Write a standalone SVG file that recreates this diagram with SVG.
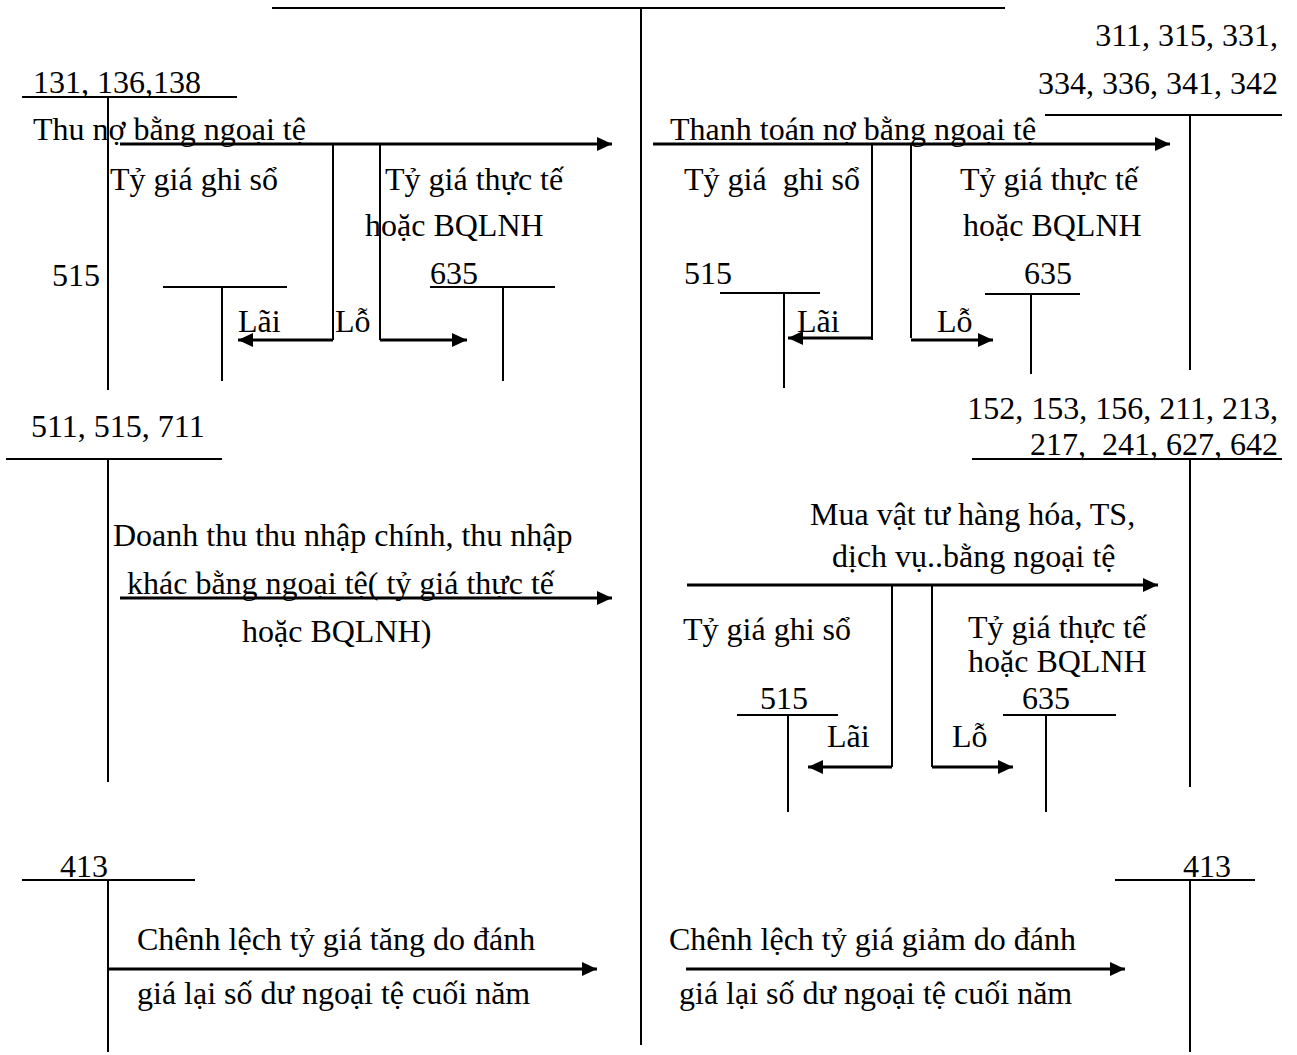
<svg xmlns="http://www.w3.org/2000/svg" width="1297" height="1055" viewBox="0 0 1297 1055">
<style>
.t{stroke:#000;stroke-width:2;fill:none}
.a{stroke:#000;stroke-width:3;fill:none;marker-end:url(#ah)}
.b{stroke:#000;stroke-width:2;fill:none}
</style>
<defs>
<marker id="ah" markerUnits="userSpaceOnUse" markerWidth="16" markerHeight="14" refX="15" refY="7" orient="auto">
<path d="M0,0 L15,7 L0,14 z" fill="#000"/>
</marker>
</defs>
<rect width="1297" height="1055" fill="#fff"/>
<g id="frame">
<line class="t" x1="272" y1="8" x2="1005" y2="8"/>
<line class="t" x1="641" y1="8" x2="641" y2="1045"/>
</g>
<g font-family="Liberation Serif, Times New Roman, serif" font-size="32" fill="#000">
<g id="acc131">
<text x="33" y="93">131, 136,138</text>
<line class="t" x1="22" y1="97" x2="237" y2="97"/>
<line class="t" x1="108" y1="97" x2="108" y2="390"/>
</g>
<g id="acc515a">
<text x="52" y="286">515</text>
<line class="t" x1="163" y1="287" x2="287" y2="287"/>
<line class="t" x1="222" y1="287" x2="222" y2="381"/>
</g>
<g id="acc635a">
<text x="430" y="284">635</text>
<line class="t" x1="430" y1="287" x2="555" y2="287"/>
<line class="t" x1="503" y1="287" x2="503" y2="381"/>
</g>
<g id="acc511">
<text x="31" y="437">511, 515, 711</text>
<line class="t" x1="6" y1="459" x2="222" y2="459"/>
<line class="t" x1="108" y1="459" x2="108" y2="782"/>
</g>
<g id="acc413a">
<text x="60" y="877">413</text>
<line class="t" x1="22" y1="880" x2="195" y2="880"/>
<line class="t" x1="108" y1="880" x2="108" y2="1052"/>
</g>
<g id="acc311">
<text x="1278" y="46" text-anchor="end">311, 315, 331,</text>
<text x="1278" y="94" text-anchor="end">334, 336, 341, 342</text>
<line class="t" x1="1045" y1="115" x2="1282" y2="115"/>
<line class="t" x1="1190" y1="115" x2="1190" y2="370"/>
</g>
<g id="acc515b">
<text x="684" y="284">515</text>
<line class="t" x1="720" y1="293" x2="820" y2="293"/>
<line class="t" x1="784" y1="293" x2="784" y2="388"/>
</g>
<g id="acc635b">
<text x="1024" y="284">635</text>
<line class="t" x1="985" y1="294" x2="1080" y2="294"/>
<line class="t" x1="1031" y1="294" x2="1031" y2="374"/>
</g>
<g id="acc152">
<text x="1278" y="419" text-anchor="end">152, 153, 156, 211, 213,</text>
<text x="1278" y="455" text-anchor="end" xml:space="preserve">217,  241, 627, 642</text>
<line class="t" x1="972" y1="459" x2="1282" y2="459"/>
<line class="t" x1="1190" y1="459" x2="1190" y2="787"/>
</g>
<g id="acc515c">
<text x="760" y="709">515</text>
<line class="t" x1="737" y1="715" x2="838" y2="715"/>
<line class="t" x1="788" y1="715" x2="788" y2="812"/>
</g>
<g id="acc635c">
<text x="1022" y="709">635</text>
<line class="t" x1="1003" y1="715" x2="1116" y2="715"/>
<line class="t" x1="1046" y1="715" x2="1046" y2="812"/>
</g>
<g id="acc413b">
<text x="1183" y="877">413</text>
<line class="t" x1="1115" y1="880" x2="1255" y2="880"/>
<line class="t" x1="1190" y1="880" x2="1190" y2="1052"/>
</g>
<g id="connectors">
<line class="a" x1="120" y1="144" x2="612" y2="144"/>
<line class="b" x1="333" y1="144" x2="333" y2="340"/>
<line class="b" x1="380" y1="144" x2="380" y2="340"/>
<line class="a" x1="333" y1="340" x2="238" y2="340"/>
<line class="a" x1="380" y1="340" x2="467" y2="340"/>
<line class="a" x1="120" y1="598" x2="612" y2="598"/>
<line class="a" x1="108" y1="969" x2="597" y2="969"/>
<line class="a" x1="653" y1="144" x2="1170" y2="144"/>
<line class="b" x1="872" y1="144" x2="872" y2="340"/>
<line class="b" x1="911" y1="144" x2="911" y2="338"/>
<line class="a" x1="872" y1="338" x2="788" y2="338"/>
<line class="a" x1="911" y1="340" x2="993" y2="340"/>
<line class="a" x1="687" y1="585" x2="1158" y2="585"/>
<line class="b" x1="892" y1="585" x2="892" y2="767"/>
<line class="b" x1="932" y1="585" x2="932" y2="767"/>
<line class="a" x1="892" y1="767" x2="808" y2="767"/>
<line class="a" x1="932" y1="767" x2="1013" y2="767"/>
<line class="a" x1="686" y1="969" x2="1125" y2="969"/>
</g>
<g id="labels">
<text x="33" y="140">Thu nợ bằng ngoại tệ</text>
<text x="110" y="190">Tỷ giá ghi sổ</text>
<text x="385" y="190">Tỷ giá thực tế</text>
<text x="365" y="236">hoặc BQLNH</text>
<text x="238" y="332">Lãi</text>
<text x="335" y="332">Lỗ</text>
<text x="113" y="546">Doanh thu thu nhập chính, thu nhập</text>
<text x="127" y="594">khác bằng ngoại tệ( tỷ giá thực tế</text>
<text x="242" y="642">hoặc BQLNH)</text>
<text x="137" y="950">Chênh lệch tỷ giá tăng do đánh</text>
<text x="137" y="1004">giá lại số dư ngoại tệ cuối năm</text>
<text x="670" y="140">Thanh toán nợ bằng ngoại tệ</text>
<text x="684" y="190" xml:space="preserve">Tỷ giá  ghi sổ</text>
<text x="960" y="190">Tỷ giá thực tế</text>
<text x="963" y="236">hoặc BQLNH</text>
<text x="797" y="332">Lãi</text>
<text x="937" y="332">Lỗ</text>
<text x="810" y="525">Mua vật tư hàng hóa, TS,</text>
<text x="832" y="567">dịch vụ..bằng ngoại tệ</text>
<text x="683" y="640">Tỷ giá ghi sổ</text>
<text x="968" y="638">Tỷ giá thực tế</text>
<text x="968" y="672">hoặc BQLNH</text>
<text x="827" y="747">Lãi</text>
<text x="952" y="747">Lỗ</text>
<text x="669" y="950">Chênh lệch tỷ giá giảm do đánh</text>
<text x="679" y="1004">giá lại số dư ngoại tệ cuối năm</text>
</g>
</g>
</svg>
